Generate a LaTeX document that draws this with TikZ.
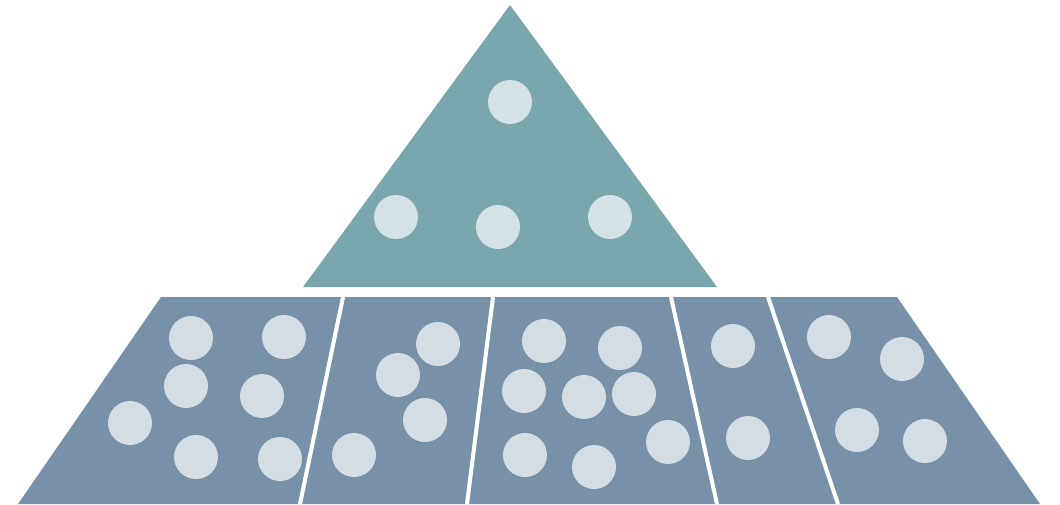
\documentclass[tikz,border=0pt]{standalone}
\usepackage{xcolor}
\definecolor{apexfill}{HTML}{7AA6AE}
\definecolor{basefill}{HTML}{7691A8}
\definecolor{dotfill}{HTML}{D4DDE4}
\definecolor{apexdot}{HTML}{D4E1E5}
\usetikzlibrary{calc}

\begin{document}
\begin{tikzpicture}[x=0.02cm,y=-0.02cm,
  dot/.style={circle,fill=dotfill,inner sep=0pt,minimum size=0.88cm},
  cut/.style={draw=white,line width=2.3pt}]
\useasboundingbox (0,0) rectangle (1060,504);

% top triangle
\coordinate (apex) at (510,5);
\coordinate (tl) at (303,287);
\coordinate (tr) at (717,287);
\fill[apexfill] (apex) -- (tr) -- (tl) -- cycle;
\foreach \n/\p in {a1/{(510,102)},a2/{(396,217)},a3/{(498,227)},a4/{(610,217)}}
  \node[dot,fill=apexdot] (\n) at \p {};

% lower band
\coordinate (bl) at (18,504);
\coordinate (br) at (1040,504);
\coordinate (ul) at (161,297);
\coordinate (ur) at (897,297);
\fill[basefill] (ul) -- (ur) -- (br) -- (bl) -- cycle;

% dividers
\foreach \i/\u/\d in {1/343/300,2/493/467,3/671/717,4/768/838}{
  \coordinate (s\i t) at (\u,297);
  \coordinate (s\i b) at (\d,504);
  \draw[cut] (s\i t) -- (s\i b);
}

% dots
\foreach \n/\p in {b1/{(191,338)},b2/{(284,337)},b3/{(186,386)},b4/{(262,396)},
    b5/{(130,423)},b6/{(196,457)},b7/{(280,459)},
    c1/{(438,344)},c2/{(398,375)},c3/{(425,420)},c4/{(354,455)},
    d1/{(544,341)},d2/{(620,348)},d3/{(524,391)},d4/{(584,397)},
    d5/{(634,394)},d6/{(525,455)},d7/{(594,467)},d8/{(668,442)},
    e1/{(733,346)},e2/{(748,438)},
    f1/{(829,337)},f2/{(902,359)},f3/{(857,430)},f4/{(925,441)}}
  \node[dot] (\n) at \p {};
\end{tikzpicture}
\end{document}
